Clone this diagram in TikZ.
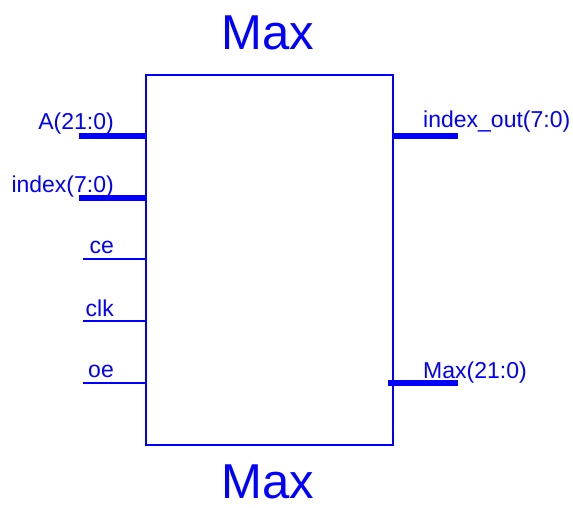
\documentclass[tikz,border=0pt]{standalone}
\usepackage{fontspec}
\setmainfont{Liberation Sans}
\begin{document}
\begin{tikzpicture}[x=1pt,y=-1pt,
  pinlbl/.style={text=blue,font=\fontsize{23}{25}\selectfont,inner sep=0pt},
  titlelbl/.style={text=blue,font=\fontsize{49}{52}\selectfont,inner sep=0pt,anchor=base,text depth=0pt},
  buspin/.style={draw=blue,line width=6.5pt},
  sigpin/.style={draw=blue,line width=1.8pt},
  boxstyle/.style={draw=blue,line width=1.8pt}]
\useasboundingbox (0,0) rectangle (573,508);
\draw[boxstyle] (146,75) rectangle (393,445);
\coordinate (bA) at (147,136);
\coordinate (bI) at (147,198);
\coordinate (bce) at (147,259);
\coordinate (bclk) at (147,321);
\coordinate (boe) at (147,383);
\coordinate (bIO) at (392,136);
\coordinate (bMax) at (392,383);
\coordinate (eA) at (79,136);
\coordinate (eI) at (79,198);
\coordinate (ece) at (83,259);
\coordinate (eclk) at (83,321);
\coordinate (eoe) at (83,383);
\coordinate (eIO) at (458,136);
\coordinate (eMax) at (458,383);
\draw[buspin] (eA) -- (bA);
\draw[buspin] (eI) -- (bI);
\draw[sigpin] (ece) -- (bce);
\draw[sigpin] (eclk) -- (bclk);
\draw[sigpin] (eoe) -- (boe);
\draw[buspin] (bIO) -- (eIO);
\draw[buspin] ([xshift=-4pt]bMax) -- (eMax);
\node[pinlbl,anchor=base east] (lA) at (114,130) {A(21:0)};
\node[pinlbl,anchor=base east] (lI) at (114,192) {index(7:0)};
\node[pinlbl,anchor=base east] (lce) at (114,253) {ce};
\node[pinlbl,anchor=base east] (lclk) at (114,316) {clk};
\node[pinlbl,anchor=base east] (loe) at (114,377) {oe};
\node[pinlbl,anchor=base west] (lIO) at (423,128) {index\_out(7:0)};
\node[pinlbl,anchor=base west] (lMax) at (423,378) {Max(21:0)};
\node[titlelbl] (t1) at (268,50) {Max};
\node[titlelbl] (t2) at (268,498) {Max};
\end{tikzpicture}
\end{document}
